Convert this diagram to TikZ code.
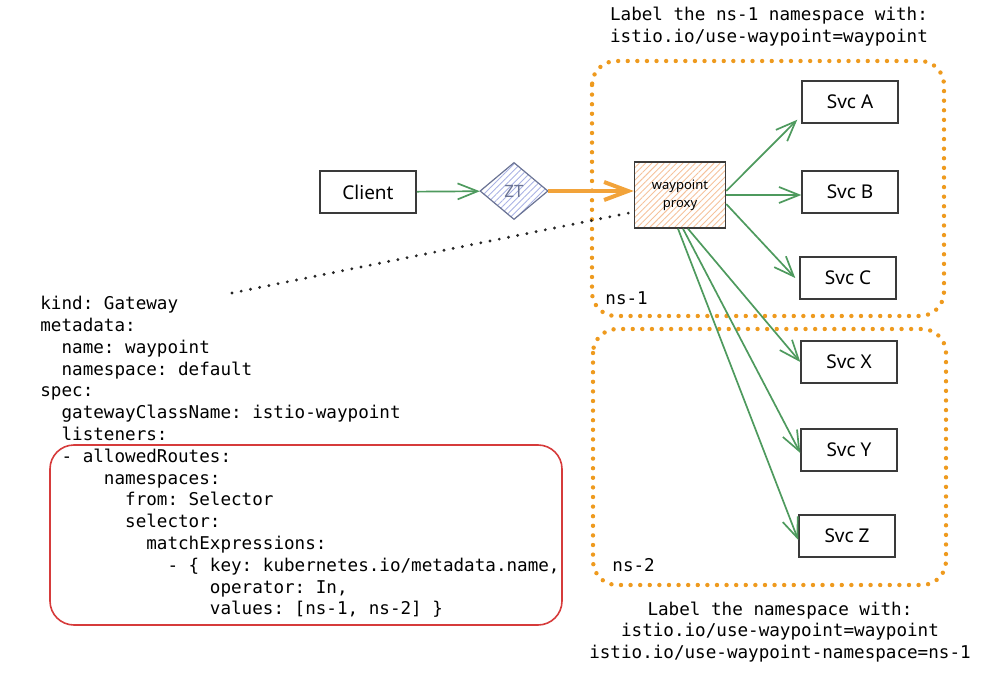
\documentclass[tikz,border=0pt]{standalone}
\usepackage{fontspec}
\setmainfont{Noto Sans}
\setmonofont{DejaVu Sans Mono}
\usetikzlibrary{shapes.geometric,arrows.meta,patterns.meta}

\definecolor{flowgreen}{HTML}{4E9A5E}
\definecolor{zorange}{HTML}{F2A33A}
\definecolor{nsorange}{HTML}{EE9A1E}
\definecolor{boxgray}{HTML}{3A3A3A}
\definecolor{yamlred}{HTML}{D63B3B}
\definecolor{hatchblue}{HTML}{A9B2E4}
\definecolor{ztborder}{HTML}{6A7394}
\definecolor{hatchpeach}{HTML}{F5C29C}

\tikzset{
  svc/.style={draw=boxgray,line width=0.75pt,minimum width=48pt,minimum height=21pt,inner sep=0pt,font=\fontsize{9.5}{11}\selectfont},
  svcflow/.style={draw=flowgreen,line width=0.85pt,-{Straight Barb[length=10pt,width=8pt]}},
  mainflow/.style={draw=zorange,line width=2pt,-{Straight Barb[length=12pt,width=9pt]}},
  nsbox/.style={draw=nsorange,line width=2.2pt,line cap=round,dash pattern=on 0pt off 4.8pt,rounded corners=12pt},
  refline/.style={draw=black!85,line width=1.6pt,line cap=round,dash pattern=on 0pt off 4.7pt},
  hatch/.style={pattern={Lines[angle=45,distance=2.2pt,line width=0.45pt]}},
  yaml/.style={inner sep=0pt,font=\ttfamily\fontsize{8.8}{10.9}\selectfont},
}

\begin{document}
\begin{tikzpicture}[x=0.5pt,y=-0.5pt]
            \useasboundingbox (0,0) rectangle (994,678);

            \draw[nsbox] (592,61) rectangle (944,316);
            \draw[nsbox] (593,329) rectangle (946,585);
            \node[yaml,anchor=west] (ns1) at (605,298) {ns-1};
            \node[yaml,anchor=west] (ns2) at (612,565) {ns-2};

            \node[yaml,align=center] (toplabel) at (769,27) {Label the ns-1 namespace with:\\istio.io/use-waypoint=waypoint};
            \node[yaml,align=center] (botlabel) at (780,632) {Label the namespace with:\\istio.io/use-waypoint=waypoint\\istio.io/use-waypoint-namespace=ns-1};

            \node[svc] (client) at (368,192) {Client};
            \node[diamond,draw=ztborder,line width=0.6pt,hatch,pattern color=hatchblue,minimum width=34pt,minimum height=28.5pt,inner sep=0pt,text=ztborder,font=\fontsize{8.5}{10}\selectfont] (zt) at (514,191) {ZT};
            \node[draw=boxgray,line width=0.75pt,hatch,pattern color=hatchpeach,minimum width=45.5pt,minimum height=33pt,inner sep=0pt,align=center,font=\fontsize{6.5}{9}\selectfont] (proxy) at (680,195) {waypoint\\proxy};

            \node[svc] (svca) at (850,102) {Svc A};
            \node[svc] (svcb) at (850,192) {Svc B};
            \node[svc] (svcc) at (848,278) {Svc C};
            \node[svc] (svcx) at (849,362) {Svc X};
            \node[svc] (svcy) at (849,450) {Svc Y};
            \node[svc] (svcz) at (847,536) {Svc Z};

            \draw[svcflow] (client) -- (zt);
            \draw[mainflow] (zt.east) -- (zt.east -| proxy.west);
            \draw[svcflow] ([yshift=2pt]proxy.east) -- ([xshift=-2pt,yshift=2pt]svca.south west);
            \draw[svcflow] (proxy.east) -- (proxy.east -| svcb.west);
            \draw[svcflow] ([yshift=-4.5pt]proxy.east) -- ([xshift=-2pt]svcc.west);
            \draw[svcflow] ([xshift=4pt]proxy.south) -- (svcx.west);
            \draw[svcflow] ([xshift=1.5pt]proxy.south) -- ([yshift=-1.5pt]svcy.west);
            \draw[svcflow] ([xshift=-1pt]proxy.south) -- ([yshift=-2pt]svcz.west);

            \coordinate (yamlref) at (232,293);
            \draw[refline] (yamlref) -- ([yshift=-8.5pt]proxy.west);

            \node[yaml,anchor=north west,align=left] (code) at (40,296) {kind: Gateway\\
metadata:\\
~~name: waypoint\\
~~namespace: default\\
spec:\\
~~gatewayClassName: istio-waypoint\\
~~listeners:\\
~~- allowedRoutes:\\
~~~~~~namespaces:\\
~~~~~~~~from: Selector\\
~~~~~~~~selector:\\
~~~~~~~~~~matchExpressions:\\
~~~~~~~~~~~~- \{ key: kubernetes.io/metadata.name,\\
~~~~~~~~~~~~~~~~operator: In,\\
~~~~~~~~~~~~~~~~values: [ns-1, ns-2] \}};
            \draw[yamlred,line width=0.8pt,rounded corners=12pt] (50,445) rectangle (562,625);
        \end{tikzpicture}
\end{document}
